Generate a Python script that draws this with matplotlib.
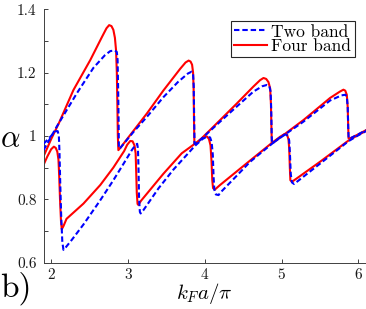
import matplotlib
matplotlib.use("Agg")
import matplotlib.pyplot as plt
import numpy as np

plt.rcParams['font.family'] = 'cmr10'
plt.rcParams['mathtext.fontset'] = 'cm'
plt.rcParams['axes.unicode_minus'] = False

# ---- data ----
# upper branch, four band model (red)
up_four_x = [1.90, 2.00, 2.10, 2.29, 2.51, 2.66, 2.72, 2.755, 2.785, 2.81, 2.83, 2.845, 2.855, 2.862, 2.868, 2.875,
             2.90, 3.03, 3.25, 3.46, 3.68, 3.75, 3.79, 3.815, 3.835, 3.848, 3.855, 3.86, 3.865,
             3.90, 4.20, 4.42, 4.634, 4.72, 4.765, 4.80, 4.83, 4.852, 4.862, 4.868, 4.873,
             4.90, 5.285, 5.633, 5.76, 5.806, 5.83, 5.85, 5.862, 5.868, 5.873,
             5.90, 6.00, 6.10]
up_four_y = [0.935, 0.99, 1.04, 1.145, 1.24, 1.312, 1.340, 1.350, 1.347, 1.335, 1.31, 1.27, 1.20, 1.10, 1.00, 0.955,
             0.962, 1.003, 1.072, 1.143, 1.212, 1.232, 1.238, 1.235, 1.225, 1.20, 1.15, 1.05, 0.975,
             0.978, 1.05, 1.103, 1.156, 1.176, 1.183, 1.18, 1.17, 1.15, 1.10, 1.03, 0.978,
             0.98, 1.05, 1.12, 1.14, 1.146, 1.143, 1.13, 1.09, 1.03, 0.992,
             0.993, 1.005, 1.018]

# upper branch, two band model (blue)
up_two_x = [1.90, 2.074, 2.335, 2.55, 2.70, 2.77, 2.83, 2.855, 2.865, 2.872, 2.878, 2.882,
            2.90, 3.07, 3.246, 3.46, 3.65, 3.78, 3.83, 3.848, 3.856, 3.862, 3.867,
            3.90, 4.20, 4.418, 4.634, 4.75, 4.81, 4.84, 4.858, 4.866, 4.872, 4.876,
            4.90, 5.285, 5.633, 5.78, 5.83, 5.85, 5.862, 5.868, 5.874,
            5.90, 6.00, 6.10]
up_two_y = [0.955, 1.03, 1.135, 1.215, 1.255, 1.268, 1.27, 1.265, 1.24, 1.15, 1.05, 0.96,
            0.962, 1.012, 1.06, 1.122, 1.17, 1.197, 1.203, 1.195, 1.16, 1.06, 0.975,
            0.978, 1.045, 1.093, 1.14, 1.157, 1.161, 1.158, 1.14, 1.08, 1.00, 0.977,
            0.98, 1.045, 1.112, 1.128, 1.13, 1.125, 1.09, 1.03, 0.992,
            0.993, 1.005, 1.018]

# lower branch, four band model (red)
lo_four_x = [1.90, 1.95, 2.00, 2.035, 2.06, 2.08, 2.095, 2.105, 2.115, 2.128, 2.138,
             2.16, 2.20, 2.42, 2.64, 2.81, 2.95, 2.99, 3.03, 3.06, 3.085, 3.10, 3.108, 3.115, 3.125, 3.135,
             3.17, 3.46, 3.70, 3.87, 3.95, 4.00, 4.03, 4.055, 4.075, 4.088, 4.098, 4.108, 4.13,
             4.20, 4.59, 4.875, 4.98, 5.04, 5.07, 5.09, 5.10, 5.108, 5.115, 5.135,
             5.20, 5.50, 5.87, 6.00, 6.10]
lo_four_y = [0.908, 0.935, 0.958, 0.966, 0.962, 0.95, 0.925, 0.87, 0.80, 0.73, 0.705,
             0.715, 0.738, 0.786, 0.845, 0.90, 0.952, 0.972, 0.984, 0.983, 0.97, 0.945, 0.88, 0.82, 0.785, 0.782,
             0.795, 0.88, 0.945, 0.975, 0.99, 0.998, 0.998, 0.99, 0.97, 0.92, 0.86, 0.835, 0.83,
             0.845, 0.922, 0.978, 0.997, 1.006, 1.005, 0.99, 0.96, 0.90, 0.86, 0.855,
             0.866, 0.918, 0.985, 1.003, 1.016]

# lower branch, two band model (blue)
lo_two_x = [1.90, 1.96, 2.02, 2.06, 2.085, 2.10, 2.108, 2.118, 2.13, 2.145, 2.16,
            2.19, 2.27, 2.42, 2.64, 2.81, 2.95, 3.05, 3.10, 3.12, 3.13, 3.137, 3.145, 3.155, 3.165,
            3.20, 3.40, 3.59, 3.87, 3.97, 4.03, 4.07, 4.09, 4.105, 4.115, 4.125, 4.145, 4.18,
            4.20, 4.40, 4.59, 4.875, 4.98, 5.05, 5.085, 5.10, 5.11, 5.12, 5.135, 5.164,
            5.20, 5.50, 5.87, 6.00, 6.10]
lo_two_y = [0.975, 0.99, 1.005, 1.015, 1.015, 1.00, 0.95, 0.85, 0.75, 0.665, 0.64,
            0.648, 0.672, 0.72, 0.797, 0.86, 0.915, 0.955, 0.972, 0.975, 0.96, 0.90, 0.80, 0.76, 0.755,
            0.765, 0.835, 0.893, 0.968, 0.99, 0.998, 0.995, 0.98, 0.94, 0.87, 0.83, 0.815, 0.813,
            0.82, 0.87, 0.918, 0.975, 0.995, 1.005, 1.00, 0.985, 0.94, 0.88, 0.853, 0.848,
            0.855, 0.912, 0.983, 1.002, 1.015]

y_ticks = [0.6, 0.8, 1.0, 1.2, 1.4]
y_ticklabels = ['0.6', '0.8', '1', '1.2', '1.4']
x_ticks = [2, 3, 4, 5, 6]
x_ticklabels = ['2', '3', '4', '5', '6']

# ---- figure ----
fig = plt.figure(figsize=(3.66, 3.09), dpi=100)
ax = fig.add_axes([43.5/366, 46.5/309, 1 - 43.5/366, (262.5 - 9.3)/309])

ax.plot(up_two_x, up_two_y, color='b', lw=1.5, ls='--', dashes=(2.6, 1.4), label='Two band', zorder=3)
ax.plot(up_four_x, up_four_y, color='r', lw=1.5, label='Four band', zorder=2)
ax.plot(lo_two_x, lo_two_y, color='b', lw=1.5, ls='--', dashes=(2.6, 1.4), zorder=3)
ax.plot(lo_four_x, lo_four_y, color='r', lw=1.5, zorder=2)

ax.set_xlim(1.9, 6.1)
ax.set_ylim(0.6, 1.4)
ax.set_xticks(x_ticks)
ax.set_xticklabels(x_ticklabels)
ax.set_yticks(y_ticks)
ax.set_yticklabels(y_ticklabels)
ax.set_yticks(np.arange(0.7, 1.4, 0.2), minor=True)

for s in ['top', 'right']:
    ax.spines[s].set_visible(False)
for s in ['left', 'bottom']:
    ax.spines[s].set_color('#404040')
    ax.spines[s].set_linewidth(0.7)

ax.tick_params(which='both', direction='in', length=3, width=0.7, color='#404040',
               labelsize=11, labelcolor='#1a1a1a')
ax.tick_params(axis='y', which='major', pad=5)
ax.tick_params(axis='x', which='major', pad=4)

ax.set_xlabel(r'$k_F a/\pi$', fontsize=15)
ax.xaxis.set_label_coords(0.5, -0.072)
fig.text(10/366, 1 - 139/309, r'$\alpha$', fontsize=22, ha='center', va='center')
fig.text(0/366, 1 - 297/309, 'b)', fontsize=24, ha='left', va='baseline')

leg = ax.legend(loc='upper right', bbox_to_anchor=(354.7/366, 1 - 20.7/309),
                bbox_transform=fig.transFigure, borderaxespad=0,
                fontsize=12.5, handlelength=1.9, handletextpad=0.25,
                labelspacing=-0.05, borderpad=0.2, fancybox=False,
                framealpha=1, edgecolor='#262626')
leg.get_frame().set_linewidth(0.8)

fig.savefig('out.png', dpi=100)
